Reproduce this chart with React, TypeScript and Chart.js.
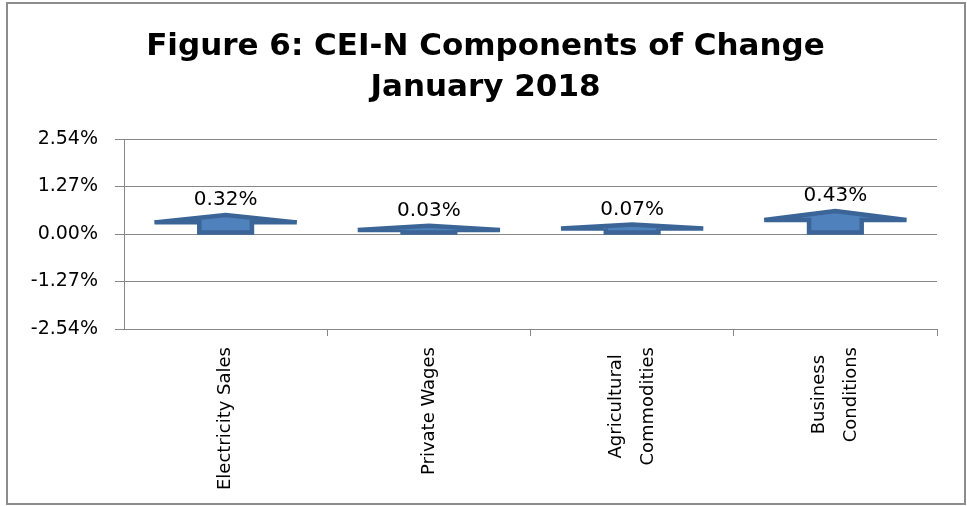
import React, { useEffect, useRef } from 'react';
import { Chart, registerables } from 'chart.js';

Chart.register(...registerables);

// ---- data ----
const CATEGORIES: string[][] = [
  ['Electricity Sales'],
  ['Private Wages'],
  ['Agricultural', 'Commodities'],
  ['Business', 'Conditions'],
];
const CHANGE_PCT: number[] = [0.32, 0.03, 0.07, 0.43];
const Y_TICKS: number[] = [-2.54, -1.27, 0, 1.27, 2.54];
const TITLE_LINES: string[] = ['Figure 6: CEI-N Components of Change', 'January 2018'];

// ---- style ----
const GRID = '#878787';
const ARROW_FILL = '#4F81BD';
const ARROW_STROKE = '#3B6597';
const FONT = 'DejaVu Sans';

const arrowPlugin = {
  id: 'arrowBars',
  afterDatasetsDraw(chart: any) {
    const ctx = chart.ctx;
    const meta = chart.getDatasetMeta(0);
    const values = chart.data.datasets[0].data as number[];
    meta.data.forEach((bar: any, i: number) => {
      const { x, y, base, width } = bar.getProps(['x', 'y', 'base', 'width'], true);
      const y0 = base - 1;
      const tip = y - 7;
      const total = y0 - tip;
      const hb = tip + Math.max(4, 0.42 * total);
      const hw = width / 2;
      const sw = width * 0.185;
      ctx.save();
      ctx.beginPath();
      ctx.moveTo(x - sw, y0);
      ctx.lineTo(x - sw, hb);
      ctx.lineTo(x - hw, hb);
      ctx.lineTo(x, tip);
      ctx.lineTo(x + hw, hb);
      ctx.lineTo(x + sw, hb);
      ctx.lineTo(x + sw, y0);
      ctx.closePath();
      ctx.fillStyle = ARROW_FILL;
      ctx.fill();
      ctx.lineWidth = 4.5;
      ctx.lineJoin = 'miter';
      ctx.miterLimit = 2;
      ctx.strokeStyle = ARROW_STROKE;
      ctx.stroke();
      // data label
      ctx.fillStyle = '#000';
      ctx.font = `20px "${FONT}"`;
      ctx.textAlign = 'center';
      ctx.textBaseline = 'middle';
      ctx.fillText(values[i].toFixed(2) + '%', x, tip - 15);
      ctx.restore();
    });
  },
};

const categoryLabelPlugin = {
  id: 'categoryLabels',
  afterDraw(chart: any) {
    const ctx = chart.ctx;
    const xs = chart.scales.x;
    const labels = chart.data.labels as string[][];
    const topY = xs.top + 7 + 11;
    const lineGap = 32;
    ctx.save();
    ctx.font = `18px "${FONT}"`;
    ctx.fillStyle = '#000';
    labels.forEach((lines, i) => {
      const px = xs.getPixelForTick(i);
      const w = Math.max(...lines.map((l) => ctx.measureText(l).width));
      ctx.save();
      ctx.translate(px, topY);
      ctx.rotate(-Math.PI / 2);
      ctx.textAlign = 'center';
      ctx.textBaseline = 'middle';
      lines.forEach((l, j) => {
        ctx.fillText(l, -w / 2, (j - (lines.length - 1) / 2) * lineGap);
      });
      ctx.restore();
    });
    ctx.restore();
  },
};

export default function App() {
  const ref = useRef<HTMLCanvasElement | null>(null);

  useEffect(() => {
    if (!ref.current) return;
    const chart = new Chart(ref.current, {
      type: 'bar',
      data: {
        labels: CATEGORIES as any,
        datasets: [
          {
            data: CHANGE_PCT,
            backgroundColor: 'rgba(0,0,0,0)',
            borderWidth: 0,
            categoryPercentage: 1,
            barPercentage: 0.7,
          },
        ],
      },
      options: {
        animation: false,
        responsive: false,
        devicePixelRatio: 1,
        layout: { padding: { left: 4, right: 0, top: 0, bottom: 0 } },
        plugins: {
          legend: { display: false },
          tooltip: { enabled: false },
          title: {
            display: true,
            text: TITLE_LINES,
            color: '#000',
            font: { family: FONT, size: 31, weight: 'bold', lineHeight: 41 / 31 },
            padding: { top: 26.5, bottom: 30.5 },
          },
        },
        scales: {
          x: {
            grid: {
              offset: true,
              drawOnChartArea: false,
              drawTicks: true,
              tickLength: 7,
              color: (c: any) => (c.index === 0 ? 'rgba(0,0,0,0)' : GRID),
            },
            border: { display: true, color: GRID },
            ticks: { display: false },
            afterFit: (s: any) => {
              s.height = 177;
            },
          },
          y: {
            min: Y_TICKS[0],
            max: Y_TICKS[Y_TICKS.length - 1],
            afterBuildTicks: (s: any) => {
              s.ticks = Y_TICKS.map((v) => ({ value: v }));
            },
            grid: { color: GRID, tickLength: 9, drawTicks: true },
            border: { display: true, color: GRID },
            ticks: {
              color: '#000',
              padding: 17,
              font: { family: FONT, size: 19 },
              callback: (v: any) => Number(v).toFixed(2) + '%',
            },
            afterFit: (s: any) => {
              s.width = 120;
            },
          },
          rightGap: {
            type: 'linear',
            position: 'right',
            display: true,
            grid: { display: false, drawTicks: false },
            border: { display: false },
            ticks: { display: false },
            afterFit: (s: any) => {
              s.width = 30;
            },
          },
        },
      } as any,
      plugins: [arrowPlugin, categoryLabelPlugin],
    });
    return () => chart.destroy();
  }, []);

  return (
    <div style={{ position: 'absolute', left: 0, top: 0, width: 967, height: 506, background: '#fff' }}>
      <canvas ref={ref} width={967} height={506} style={{ position: 'absolute', left: 0, top: 0 }} />
      <div
        style={{
          position: 'absolute',
          left: 6,
          top: 2,
          width: 956,
          height: 499,
          border: '2px solid #8c8c8c',
          pointerEvents: 'none',
        }}
      />
    </div>
  );
}
